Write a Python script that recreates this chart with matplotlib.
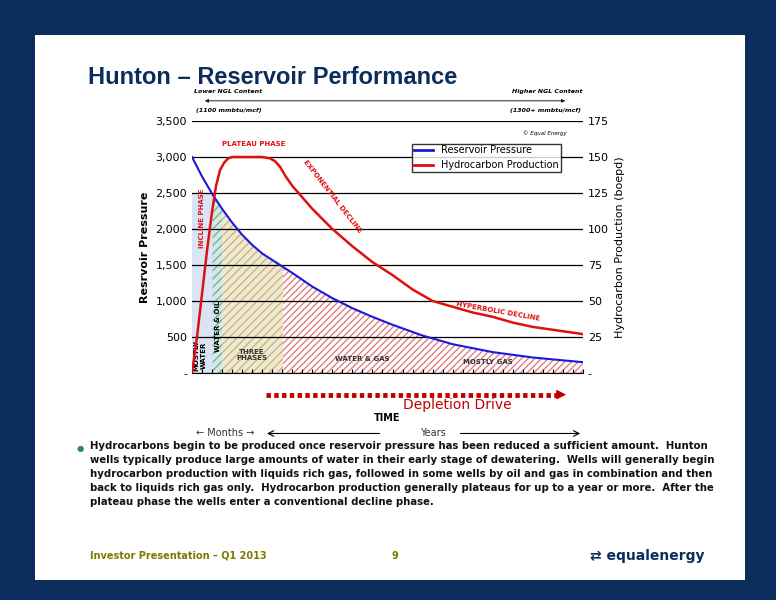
import numpy as np
import matplotlib.pyplot as plt
from matplotlib.patches import Rectangle

# data (time in tick units, 0..39)
p_t = [0, 1, 2, 3, 4, 5, 6, 7, 8, 9, 10, 12, 14, 16, 18, 20, 23, 26, 30, 34, 39]
p_val = [3000, 2730, 2490, 2280, 2090, 1920, 1780, 1660, 1570, 1480, 1390, 1200, 1040, 900, 780, 670, 520,
         400, 290, 215, 150]
h_t = [0, 0.5, 1.0, 1.5, 2.0, 2.4, 2.8, 3.2, 3.6, 4, 5, 6, 7, 7.8, 8.3, 8.8, 9.3, 10, 11, 12, 13, 14, 15, 16,
       18, 20, 22, 24, 26, 28, 30, 32, 34, 36, 39]
h_val = [0, 25, 55, 85, 112, 130, 141, 146, 149, 150, 150, 150, 150, 149, 147, 143, 137, 130, 122, 114, 107,
         100, 94, 88, 77, 68, 58, 50, 46, 42, 39, 35, 32, 30, 27]
left_ticks = [0, 500, 1000, 1500, 2000, 2500, 3000, 3500]
left_labels = ['-', '500', '1,000', '1,500', '2,000', '2,500', '3,000', '3,500']
right_ticks = [0, 25, 50, 75, 100, 125, 150, 175]
right_labels = ['-', '25', '50', '75', '100', '125', '150', '175']

navy = '#0b2d5c'
fig = plt.figure(figsize=(7.76, 6.0), dpi=100)
fig.patch.set_facecolor(navy)
fig.add_artist(Rectangle((35/776, 20/600), 710/776, 545/600, transform=fig.transFigure,
                         facecolor='white', edgecolor='none', zorder=0))
fig.text(88/776, 1-78/600, 'Hunton \u2013 Reservoir Performance', fontsize=17, fontweight='bold',
         color=navy, va='center', family='Liberation Sans')

ax = fig.add_axes([192/776, 1-373/600, 391/776, 252/600])
ax.set_xlim(0, 39)
ax.set_ylim(0, 3500)
ax.set_yticks(left_ticks)
ax.set_yticklabels(left_labels, fontsize=8)
ax.set_xticks(range(40))
ax.set_xticklabels([])
ax.tick_params(axis='x', length=3, direction='in')
ax.tick_params(axis='y', length=0)
ax.grid(axis='y', color='black', lw=0.9)
for s in ['top', 'left', 'right']:
    ax.spines[s].set_visible(False)
ax.set_ylabel('Resrvoir Pressure', fontsize=8, fontweight='bold')

t = np.linspace(0, 39, 400)
p = np.interp(t, p_t, p_val)
m = t <= 2.1
ax.fill_between(t[m], 0, np.minimum(p[m], 2500), color='#dbe4f5', zorder=1)
m = (t >= 2.0) & (t <= 3.1)
ax.fill_between(t[m], 0, p[m], facecolor='#d6ecd0', hatch='////', edgecolor='#6fa8dc', lw=0, zorder=1)
m = (t >= 3) & (t <= 9.1)
ax.fill_between(t[m], 0, p[m], facecolor='#e6f0c8', hatch='////', edgecolor='#e8a0a0', lw=0, zorder=1)
m = t >= 9
ax.fill_between(t[m], 0, p[m], facecolor='white', hatch='/////', edgecolor='#e08080', lw=0, zorder=1)

ax.plot(p_t, p_val, color='#1a1adc', lw=1.5, zorder=3)
ax2 = ax.twinx()
ax2.set_ylim(0, 175)
ax2.set_yticks(right_ticks)
ax2.set_yticklabels(right_labels, fontsize=8)
ax2.tick_params(length=0)
for s in ['top', 'left', 'right', 'bottom']:
    ax2.spines[s].set_visible(False)
ax2.plot(h_t, h_val, color='#e01010', lw=1.8, zorder=3)
ax2.set_ylabel('Hydrocarbon Production (boepd)', fontsize=8)
ax2.plot([], [], color='#1a1adc', lw=2, label='Reservoir Pressure')
ax2.plot([], [], color='#e01010', lw=2, label='Hydrocarbon Production')
ax2.legend(loc='upper left', bbox_to_anchor=(0.55, 0.93), fontsize=7, frameon=True, fancybox=False,
           edgecolor='black', borderpad=0.2, handlelength=2)

red = '#e01010'
ax.text(3.0, 3150, 'PLATEAU PHASE', color=red, fontsize=5, fontweight='bold')
ax.text(1.0, 2150, 'INCLINE PHASE', color=red, fontsize=5, fontweight='bold', rotation=90, ha='center', va='center')
ax.text(14, 2450, 'EXPONENTIAL DECLINE', color=red, fontsize=5, fontweight='bold', rotation=-52, ha='center', va='center')
ax.text(30.5, 850, 'HYPERBOLIC DECLINE', color=red, fontsize=5, fontweight='bold', rotation=-10, ha='center', va='center')
ax.text(0.8, 240, 'MOSTLY\nWATER', fontsize=5, fontweight='bold', rotation=90, ha='center', va='center')
ax.text(2.6, 650, 'WATER & OIL', fontsize=5, fontweight='bold', rotation=90, ha='center', va='center')
ax.text(6, 250, 'THREE\nPHASES', fontsize=5, fontweight='bold', ha='center', va='center', color='#333333')
ax.text(17, 200, 'WATER & GAS', fontsize=5, fontweight='bold', ha='center', va='center', color='#333333')
ax.text(29.5, 150, 'MOSTLY GAS', fontsize=5, fontweight='bold', ha='center', va='center', color='#333333')
ax.text(33, 3300, '\u00a9 Equal Energy', fontsize=4, fontstyle='italic')

# annotations outside the axes
ax.plot([7.4, 36.5], [-300, -300], color='#c00000', lw=3.5, linestyle=(0, (0.9, 0.7)), clip_on=False)
ax.annotate('', xy=(37.6, -300), xytext=(36.3, -300), annotation_clip=False,
            arrowprops=dict(arrowstyle='-|>', color='#c00000', lw=1, mutation_scale=14))
ax.text(26.5, -450, 'Depletion Drive', color='#c00000', fontsize=10, ha='center', va='center')
ax.text(19.5, -620, 'TIME', fontsize=7, fontweight='bold', ha='center', va='center')
ax.text(0.4, -840, '\u2190 Months \u2192', fontsize=7, ha='left', va='center', color='#333333')
ax.annotate('', xy=(7.2, -840), xytext=(19, -840), annotation_clip=False, arrowprops=dict(arrowstyle='->', lw=0.8))
ax.text(24, -840, 'Years', fontsize=7, ha='center', va='center', color='#333333')
ax.annotate('', xy=(39, -840), xytext=(26.5, -840), annotation_clip=False, arrowprops=dict(arrowstyle='->', lw=0.8))
ax.annotate('', xy=(1.0, 3780), xytext=(37.5, 3780), annotation_clip=False,
            arrowprops=dict(arrowstyle='<|-|>', lw=0.6, mutation_scale=5))
ax.text(0.2, 3880, 'Lower NGL Content', fontsize=4.5, fontstyle='italic', fontweight='bold', va='bottom')
ax.text(0.4, 3640, '(1100 mmbtu/mcf)', fontsize=4.5, fontstyle='italic', fontweight='bold', va='center')
ax.text(39, 3880, 'Higher NGL Content', fontsize=4.5, fontstyle='italic', fontweight='bold', va='bottom', ha='right')
ax.text(38.8, 3640, '(1300+ mmbtu/mcf)', fontsize=4.5, fontstyle='italic', fontweight='bold', va='center', ha='right')

fig.text(77/776, 1-449/600, '\u25cf', color='#2e8b57', fontsize=6, va='center')
fig.text(90/776, 1-441/600,
         'Hydrocarbons begin to be produced once reservoir pressure has been reduced a sufficient amount.  Hunton\n'
         'wells typically produce large amounts of water in their early stage of dewatering.  Wells will generally begin\n'
         'hydrocarbon production with liquids rich gas, followed in some wells by oil and gas in combination and then\n'
         'back to liquids rich gas only.  Hydrocarbon production generally plateaus for up to a year or more.  After the\n'
         'plateau phase the wells enter a conventional decline phase.',
         fontsize=7.3, fontweight='bold', va='top', linespacing=1.5, color='#111111')

fig.text(90/776, 1-556/600, 'Investor Presentation \u2013 Q1 2013', fontsize=7, fontweight='bold', color='#7a7a00', va='center')
fig.text(392/776, 1-556/600, '9', fontsize=7, fontweight='bold', color='#7a7a00', va='center')
fig.text(590/776, 1-556/600, '\u21c4 equalenergy', fontsize=10, fontweight='bold', color=navy, va='center')

fig.savefig('out.png', dpi=100, facecolor=fig.get_facecolor())
